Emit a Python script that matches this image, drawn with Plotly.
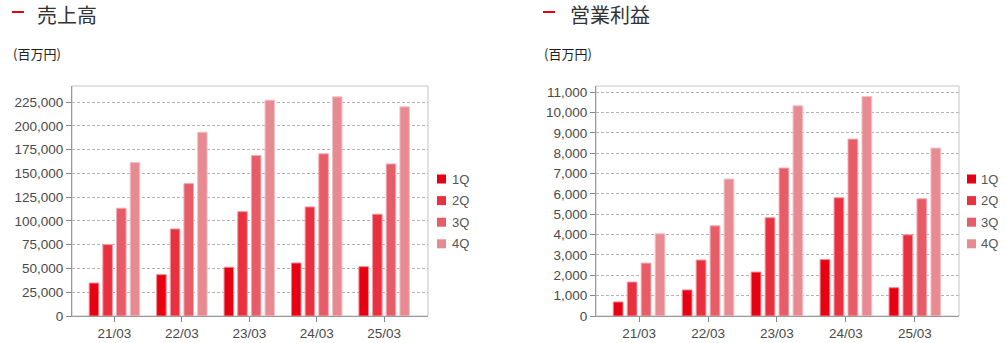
import plotly.graph_objects as go

# Fiscal periods (year/month of fiscal year end)
periods = ["21/03", "22/03", "23/03", "24/03", "25/03"]
quarters = ["1Q", "2Q", "3Q", "4Q"]

# Cumulative net sales by quarter (million yen)
sales_1q = [34700, 43500, 51300, 55800, 51900]
sales_2q = [75100, 91600, 109800, 114800, 107100]
sales_3q = [113400, 139300, 168800, 170600, 160000]
sales_4q = [161400, 193400, 227100, 230600, 220100]

# Cumulative operating income by quarter (million yen)
op_1q = [690, 1280, 2160, 2770, 1390]
op_2q = [1670, 2750, 4830, 5810, 3990]
op_3q = [2600, 4430, 7270, 8690, 5760]
op_4q = [4040, 6730, 10330, 10780, 8250]

bar_colors = ["#e60012", "#e8303f", "#e65c67", "#e88a91"]
edge_colors = ["#f08890", "#f29aa2", "#f2aab0", "#f4c2c6"]

W, H = 1006, 343
FONT = "Liberation Sans, Arial, sans-serif"
CJK = "Noto Sans CJK JP, sans-serif"


def px_x(x):
    return x / W


def px_y(y):
    return 1 - y / H


fig = go.Figure()

panels = [
    ("x", "y", [sales_1q, sales_2q, sales_3q, sales_4q]),
    ("x2", "y2", [op_1q, op_2q, op_3q, op_4q]),
]

for xa, ya, series in panels:
    for q, vals, col, edge in zip(quarters, series, bar_colors, edge_colors):
        fig.add_trace(go.Bar(
            x=periods, y=vals, name=q, xaxis=xa, yaxis=ya,
            marker=dict(color=col, line=dict(color=edge, width=1)),
            showlegend=False, hoverinfo="x+y+name",
        ))

axis_common = dict(
    showline=True, linecolor="#999999", linewidth=1,
    ticks="outside", ticklen=5, tickcolor="#888888",
    tickfont=dict(family=FONT, size=13.5, color="#4a4a4a"),
    automargin=False, fixedrange=True,
)
grid = dict(showgrid=True, gridcolor="#b4b4b4", griddash="3px,2px", zeroline=False)

fig.update_layout(
    width=W, height=H,
    margin=dict(l=0, r=0, t=0, b=0, autoexpand=False),
    paper_bgcolor="white", plot_bgcolor="white",
    barmode="group", bargap=0.19, bargroupgap=0.3,
    font=dict(family=FONT, color="#333333"),
    showlegend=False,
    xaxis=dict(domain=[px_x(72), px_x(428)], anchor="y",
               range=[-0.63, 4.65], showgrid=False, **axis_common),
    yaxis=dict(domain=[px_y(316), px_y(86)], anchor="x",
               range=[0, 242000], dtick=25000, tickformat=",",
               **grid, **axis_common),
    xaxis2=dict(domain=[px_x(596), px_x(959)], anchor="y2",
                range=[-0.625, 4.64], showgrid=False, **axis_common),
    yaxis2=dict(domain=[px_y(316), px_y(86)], anchor="x2",
                range=[0, 11300], dtick=1000, tickformat=",",
                **grid, **axis_common),
)

# Light frame around each plot area
for xr, yr in [("x domain", "y domain"), ("x2 domain", "y2 domain")]:
    fig.add_shape(type="rect", xref=xr, yref=yr, x0=0, x1=1, y0=0, y1=1,
                  line=dict(color="#c4c4c4", width=1), layer="below")

# Quarter keys beside each chart
legend_pos = [(437, 451), (967, 980)]
for sq_x, txt_x in legend_pos:
    for i, (q, col) in enumerate(zip(quarters, bar_colors)):
        cy = 179 + 21.6 * i
        fig.add_shape(type="rect", xref="paper", yref="paper",
                      x0=px_x(sq_x), x1=px_x(sq_x + 9),
                      y0=px_y(cy + 4.5), y1=px_y(cy - 4.5),
                      line=dict(width=0), fillcolor=col)
        fig.add_annotation(text=q, xref="paper", yref="paper",
                           x=px_x(txt_x), y=px_y(cy), xanchor="left", yanchor="middle",
                           showarrow=False, borderpad=0,
                           font=dict(family=FONT, size=13, color="#555555"))

# Panel headings: red dash, title, unit label
headings = [
    (12, 36, "売上高"),
    (543, 569, "営業利益"),
]
for dash_x, title_x, title in headings:
    fig.add_shape(type="line", xref="paper", yref="paper",
                  x0=px_x(dash_x), x1=px_x(dash_x + 12),
                  y0=px_y(12), y1=px_y(12),
                  line=dict(color="#e60012", width=2))
    fig.add_annotation(text=title, xref="paper", yref="paper",
                       x=px_x(title_x), y=px_y(14), xanchor="left", yanchor="middle",
                       showarrow=False, borderpad=0,
                       font=dict(family=CJK, size=20, color="#333333"))
    fig.add_annotation(text="(百万円)", xref="paper", yref="paper",
                       x=px_x(dash_x), y=px_y(53), xanchor="left", yanchor="middle",
                       showarrow=False, borderpad=0,
                       font=dict(family=CJK, size=13, color="#222222"))

fig.write_html("out.html")
